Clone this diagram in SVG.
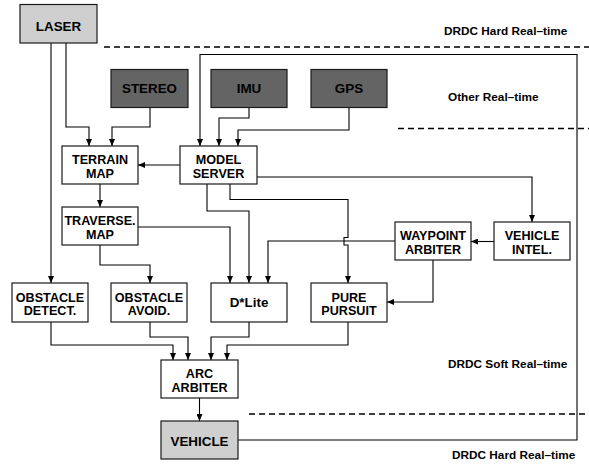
<svg xmlns="http://www.w3.org/2000/svg" width="589" height="466" viewBox="0 0 589 466">
<defs>
<marker id="arr" markerUnits="userSpaceOnUse" markerWidth="8" markerHeight="6" refX="7" refY="3" orient="auto">
<path d="M0,0 L7,3 L0,6 z" fill="#000"/>
</marker>
<style>
.box{stroke:#1a1a1a;stroke-width:1.2}
.white{fill:#fff}
.light{fill:#cfcfcf}
.dark{fill:#646464}
.lbl{font-family:"Liberation Sans",Arial,sans-serif;font-weight:bold;font-size:13.4px;text-anchor:middle;fill:#000}
.two{font-size:12.6px}
.zone{font-family:"Liberation Sans",Arial,sans-serif;font-weight:bold;font-size:11.8px;fill:#000}
.dash{stroke:#000;stroke-width:1.5;stroke-dasharray:6 4;fill:none}
.con path{fill:none;stroke:#000;stroke-width:1.1}
.arrow{marker-end:url(#arr)}
</style>
</defs>
<rect width="589" height="466" fill="#fff"/>

<g id="zones">
<line class="dash" x1="104" y1="47" x2="589" y2="47"/>
<line class="dash" x1="398" y1="128.5" x2="589" y2="128.5"/>
<line class="dash" x1="249" y1="414" x2="589" y2="414"/>
<text class="zone" x="444" y="35">DRDC Hard Real–time</text>
<text class="zone" x="448" y="101">Other Real–time</text>
<text class="zone" x="448" y="368">DRDC Soft Real–time</text>
<text class="zone" x="452" y="459">DRDC Hard Real–time</text>
</g>

<g id="connectors" class="con">
<path class="arrow" d="M51,43 V283"/>
<path class="arrow" d="M66,43 V127 H89 V146"/>
<path class="arrow" d="M150,108 V127 H112 V146"/>
<path class="arrow" d="M238,440 H577 V54.5 H200 V146"/>
<path class="arrow" d="M249,108 V118 H219 V146"/>
<path class="arrow" d="M349,108 V130 H238 V146"/>
<path class="arrow" d="M180,165 H138"/>
<path class="arrow" d="M100,184 V207"/>
<path class="arrow" d="M138,227 H230 V283"/>
<path class="arrow" d="M100,245 V265 H150 V283"/>
<path class="arrow" d="M207,184 V211 H249 V283"/>
<path class="arrow" d="M230,184 V199.5 H348 V237.5 H344 V245 H348 V283"/>
<path class="arrow" d="M257,177 H532 V222"/>
<path class="arrow" d="M494,241.5 H471"/>
<path class="arrow" d="M395,241 H268 V283"/>
<path class="arrow" d="M433,260 V302 H387"/>
<path class="arrow" d="M51,322 V345 H173 V360"/>
<path class="arrow" d="M150,322 V337 H188 V360"/>
<path class="arrow" d="M249,322 V337 H211 V360"/>
<path class="arrow" d="M348,322 V345 H227 V360"/>
<path class="arrow" d="M199.5,398 V421"/>
</g>

<g id="laser"><rect class="box light" x="20" y="4.5" width="77" height="38.5"/><text class="lbl" x="58.5" y="31">LASER</text></g>
<g id="stereo"><rect class="box dark" x="111" y="69.5" width="77" height="38"/><text class="lbl" x="149.5" y="93.3">STEREO</text></g>
<g id="imu"><rect class="box dark" x="211" y="69.5" width="76" height="38"/><text class="lbl" x="249" y="93.3">IMU</text></g>
<g id="gps"><rect class="box dark" x="311" y="69.5" width="76" height="38"/><text class="lbl" x="349" y="93.3">GPS</text></g>
<g id="terrain"><rect class="box white" x="62" y="146" width="76" height="38"/><text class="lbl two" x="100" y="164.2">TERRAIN</text><text class="lbl two" x="100" y="177.8">MAP</text></g>
<g id="model"><rect class="box white" x="180" y="146" width="77" height="38"/><text class="lbl two" x="218.5" y="164.2">MODEL</text><text class="lbl two" x="218.5" y="177.8">SERVER</text></g>
<g id="traverse"><rect class="box white" x="62" y="207" width="76" height="38"/><text class="lbl two" x="100" y="225.2">TRAVERSE.</text><text class="lbl two" x="100" y="238.8">MAP</text></g>
<g id="waypoint"><rect class="box white" x="395" y="222" width="76" height="38"/><text class="lbl two" x="433" y="240.4">WAYPOINT</text><text class="lbl two" x="433" y="254">ARBITER</text></g>
<g id="vintel"><rect class="box white" x="494" y="222" width="76" height="38"/><text class="lbl two" x="532" y="240.4">VEHICLE</text><text class="lbl two" x="532" y="254">INTEL.</text></g>
<g id="odetect"><rect class="box white" x="12" y="283" width="76" height="39"/><text class="lbl two" x="50" y="301.6">OBSTACLE</text><text class="lbl two" x="50" y="315.2">DETECT.</text></g>
<g id="oavoid"><rect class="box white" x="111" y="283" width="76" height="39"/><text class="lbl two" x="149" y="301.6">OBSTACLE</text><text class="lbl two" x="149" y="315.2">AVOID.</text></g>
<g id="dlite"><rect class="box white" x="211" y="283" width="76" height="39"/><text class="lbl" x="249" y="307">D*Lite</text></g>
<g id="pure"><rect class="box white" x="311" y="283" width="76" height="39"/><text class="lbl two" x="349" y="301.6">PURE</text><text class="lbl two" x="349" y="315.2">PURSUIT</text></g>
<g id="arc"><rect class="box white" x="161" y="360" width="77" height="38"/><text class="lbl two" x="199.5" y="378.4">ARC</text><text class="lbl two" x="199.5" y="392">ARBITER</text></g>
<g id="vehicle"><rect class="box light" x="161" y="421" width="77" height="38"/><text class="lbl" x="199.5" y="445.5">VEHICLE</text></g>
</svg>
